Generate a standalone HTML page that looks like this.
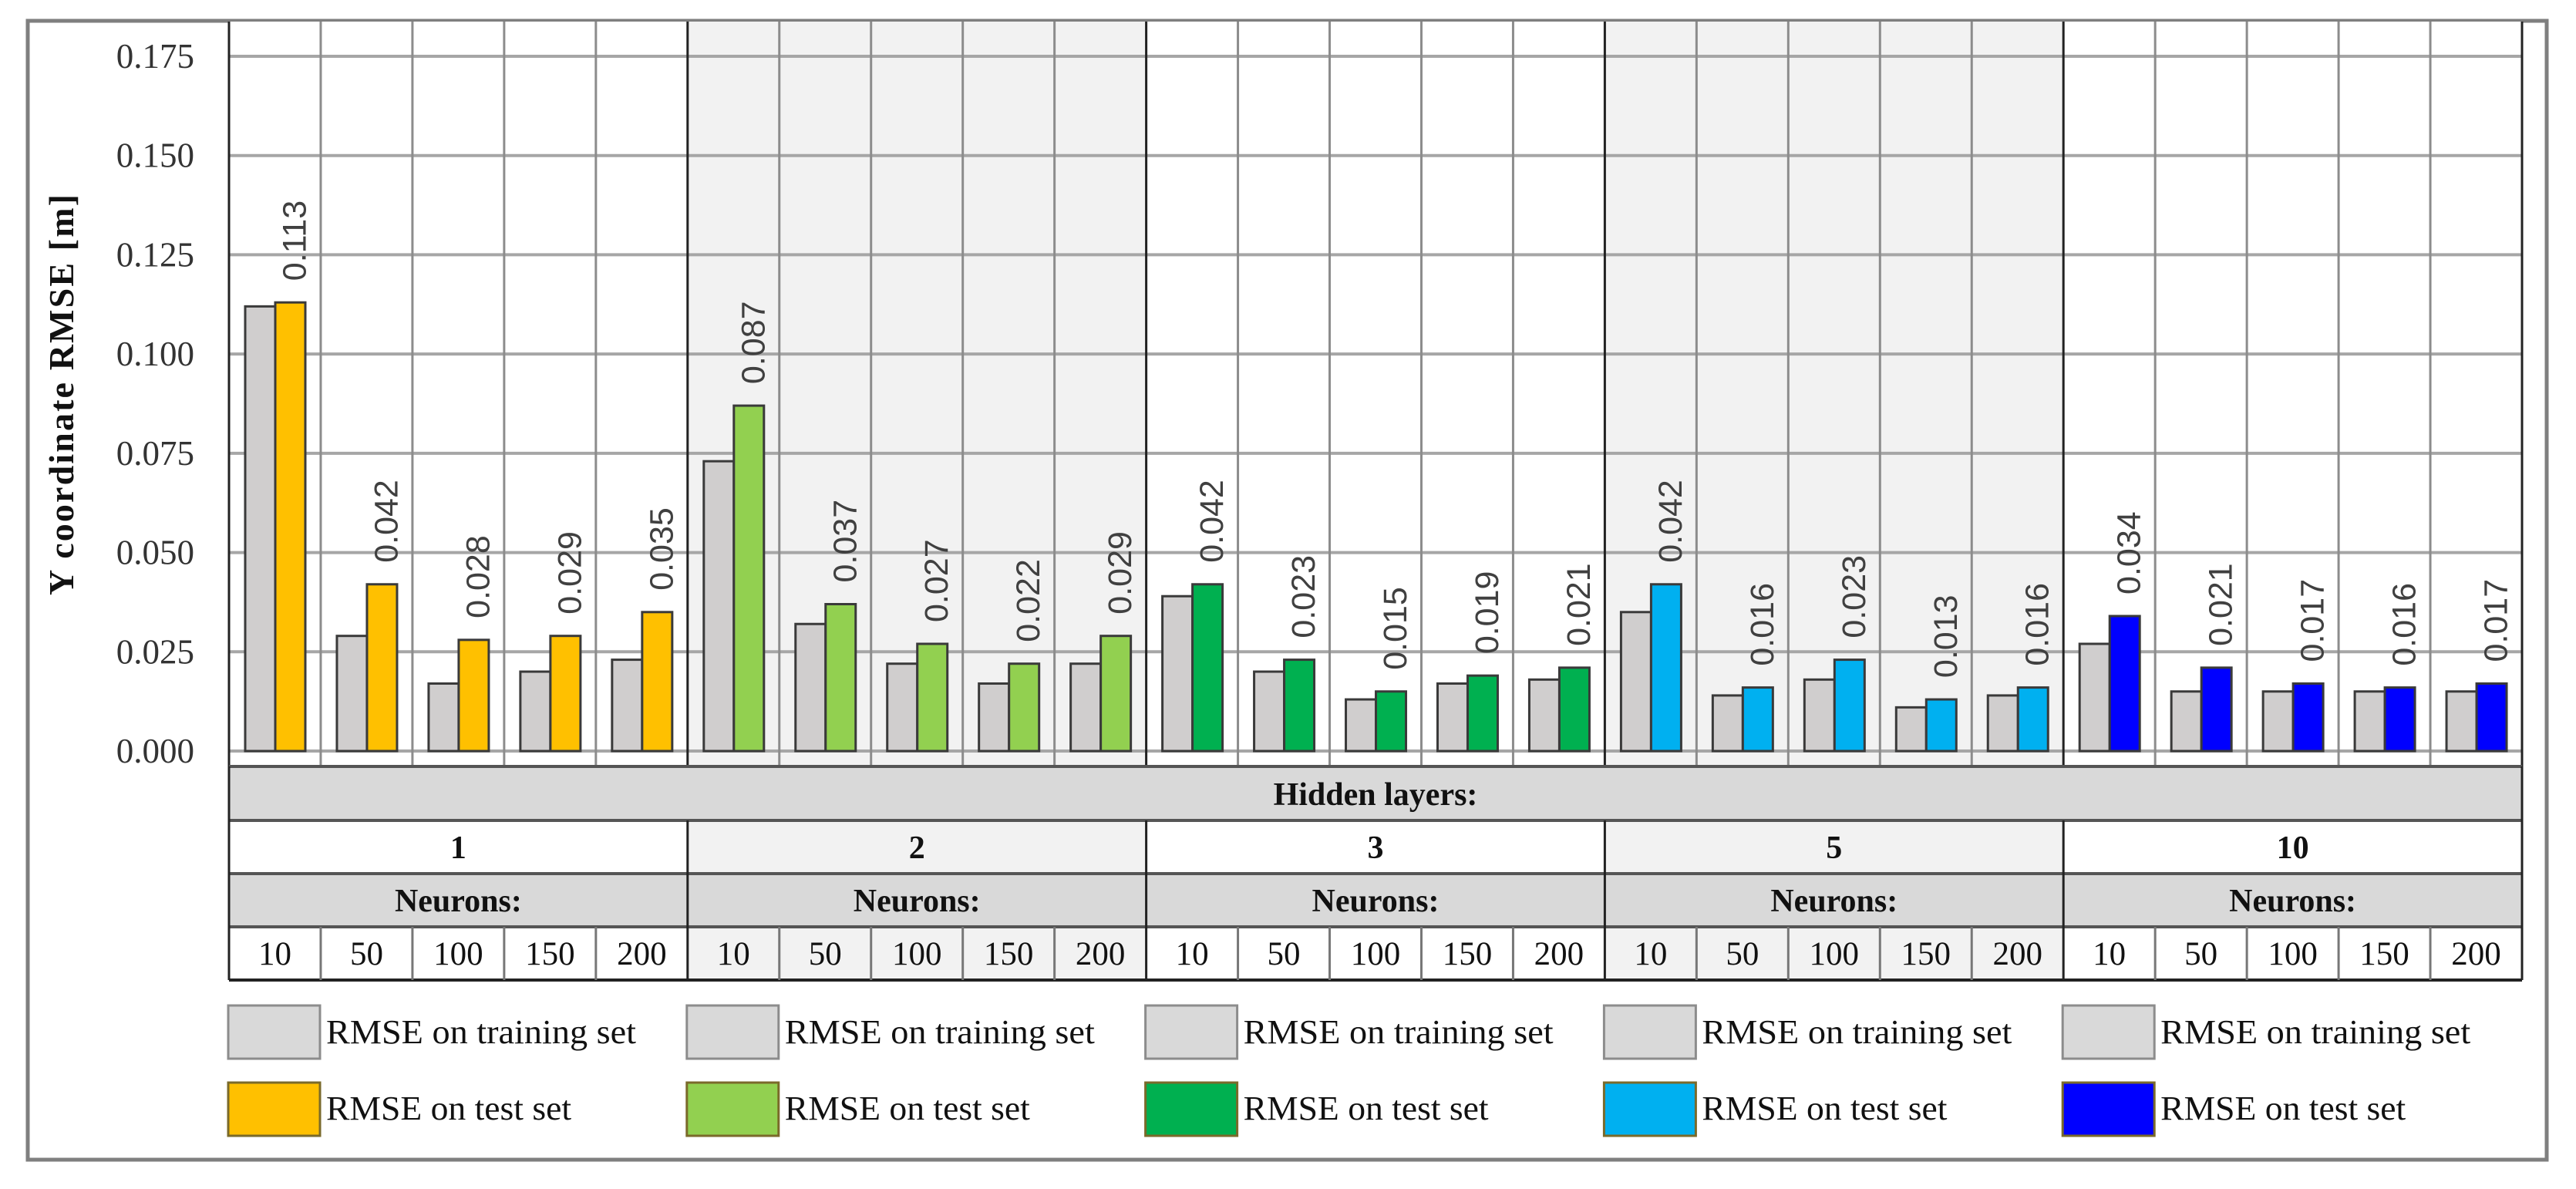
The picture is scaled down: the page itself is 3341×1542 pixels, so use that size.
<!DOCTYPE html>
<html><head><meta charset="utf-8"><style>
html,body{margin:0;padding:0;background:#fff;}
svg{display:block;}
</style></head><body>
<svg id="chart" width="3341" height="1542" viewBox="0 0 3341 1542" xmlns="http://www.w3.org/2000/svg">
<rect x="36" y="27" width="3267" height="1477" fill="#fff" stroke="#7f7f7f" stroke-width="5"/>
<g id="bg"></g>
<g id="grid"></g>
<g id="bars"></g>
<g id="labels"></g>
<g id="table"></g>
<g id="legend"></g>
<text transform="translate(95,512) rotate(-90)" text-anchor="middle" font-family="Liberation Serif, serif" font-weight="bold" font-size="46" textLength="520" fill="#111">Y coordinate RMSE [m]</text>
</svg>
<script>
const layers = ["1","2","3","5","10"];
const neurons = ["10","50","100","150","200"];
const trainValues = [
 [0.112,0.029,0.017,0.020,0.023],
 [0.073,0.032,0.022,0.017,0.022],
 [0.039,0.020,0.013,0.017,0.018],
 [0.035,0.014,0.018,0.011,0.014],
 [0.027,0.015,0.015,0.015,0.015]];
const testValues = [
 [0.113,0.042,0.028,0.029,0.035],
 [0.087,0.037,0.027,0.022,0.029],
 [0.042,0.023,0.015,0.019,0.021],
 [0.042,0.016,0.023,0.013,0.016],
 [0.034,0.021,0.017,0.016,0.017]];
const yTicks = [0,0.025,0.05,0.075,0.1,0.125,0.15,0.175];
const testColors = ["#ffc000","#92d050","#00b050","#00b0f0","#0000ff"];

const NS="http://www.w3.org/2000/svg";
const X0=297, X1=3271, PTOP=28, PBOT=994, Y0=974, YMAX=0.175, YTOP=73;
const GW=(X1-X0)/5, SW=GW/5;
function yS(v){return Y0-(v/YMAX)*(Y0-YTOP);}
function gx(g){return X0+g*GW;}
function sx(g,s){return gx(g)+s*SW;}
function mk(parent,tag,attrs,text){const e=document.createElementNS(NS,tag);for(const k in attrs)e.setAttribute(k,attrs[k]);if(text!==undefined)e.textContent=text;document.getElementById(parent).appendChild(e);return e;}

// backgrounds
for(let g=0;g<5;g++){
 const e=mk('bg','rect',{x:gx(g),y:PTOP,width:GW,height:PBOT-PTOP,fill:(g%2)?'#f2f2f2':'#fff'});
 
 
}
// horizontal grid + ticks
yTicks.forEach(t=>{
 const y=yS(t);
 const l=mk('grid','line',{x1:X0,x2:X1,y1:y,y2:y,stroke:'#a6a6a6','stroke-width':4});
 
 
 const tx=mk('grid','text',{x:252,y:y+15,'text-anchor':'end','font-family':'Liberation Serif, serif','font-size':45,fill:'#333'},t.toFixed(3));
 
 
});
// vertical lines
for(let g=0;g<5;g++)for(let s=1;s<5;s++){
 const l=mk('grid','line',{x1:sx(g,s),x2:sx(g,s),y1:PTOP,y2:PBOT,stroke:'#8c8c8c','stroke-width':3});
 
 
}
for(let g=0;g<=5;g++){
 const l=mk('grid','line',{x1:gx(g),x2:gx(g),y1:PTOP,y2:1271,stroke:'#222','stroke-width':3});
 
 
}
// bars
const BW=39, PAD=21;
for(let g=0;g<5;g++)for(let s=0;s<5;s++){
 const bx=sx(g,s)+PAD;
 const tv=trainValues[g][s], te=testValues[g][s];
 const b1=mk('bars','rect',{x:bx,y:yS(tv),width:BW,height:Y0-yS(tv),fill:'#d0cece',stroke:'#3a3a3a','stroke-width':3});
 
 
 const b2=mk('bars','rect',{x:bx+BW,y:yS(te),width:BW,height:Y0-yS(te),fill:testColors[g],stroke:'#3a3a3a','stroke-width':3});
 
 
 const cx=bx+BW*1.5+5, ty=yS(te)-28;
 const lb=mk('labels','text',{transform:`translate(${cx+15},${ty}) rotate(-90)`,'font-family':'Liberation Sans, sans-serif','font-size':43,fill:'#404040'},te.toFixed(3));
 
 
}
// table
function row(y1,y2,fillFn){
 for(let g=0;g<5;g++){mk('table','rect',{x:gx(g),y:y1,width:GW,height:y2-y1,fill:fillFn(g)});}
}
mk('table','rect',{x:X0,y:994,width:X1-X0,height:70,fill:'#d9d9d9'});
row(1064,1133,g=>(g%2)?'#f2f2f2':'#fff');
row(1133,1202,g=>'#d9d9d9');
row(1202,1271,g=>(g%2)?'#f2f2f2':'#fff');
[994,1064,1133,1202].forEach(y=>mk('table','line',{x1:X0,x2:X1,y1:y,y2:y,stroke:'#555','stroke-width':4}));
mk('table','line',{x1:X0,x2:X1,y1:1271,y2:1271,stroke:'#222','stroke-width':4});
mk('table','line',{x1:X0,x2:X0,y1:994,y2:1271,stroke:'#222','stroke-width':3});
mk('table','line',{x1:X1,x2:X1,y1:994,y2:1271,stroke:'#222','stroke-width':3});
for(let g=0;g<5;g++){
 mk('table','line',{x1:gx(g),x2:gx(g),y1:1064,y2:1271,stroke:'#222','stroke-width':3});
 for(let s=1;s<5;s++) mk('table','line',{x1:sx(g,s),x2:sx(g,s),y1:1202,y2:1271,stroke:'#777','stroke-width':3});
}
const hl=mk('table','text',{x:(X0+X1)/2,y:1044,'text-anchor':'middle','font-family':'Liberation Serif, serif','font-weight':'bold','font-size':42,fill:'#111'},'Hidden layers:');


for(let g=0;g<5;g++){
 const c=gx(g)+GW/2;
 const t=mk('table','text',{x:c,y:1113,'text-anchor':'middle','font-family':'Liberation Serif, serif','font-weight':'bold','font-size':42,fill:'#111'},layers[g]);
 
 
 const n=mk('table','text',{x:c,y:1182,'text-anchor':'middle','font-family':'Liberation Serif, serif','font-weight':'bold','font-size':42,fill:'#111'},'Neurons:');
 
 
 for(let s=0;s<5;s++){
  const v=mk('table','text',{x:sx(g,s)+SW/2,y:1251,'text-anchor':'middle','font-family':'Liberation Serif, serif','font-size':43,fill:'#111'},neurons[s]);
  
  
 }
}
// legend
for(let g=0;g<5;g++){
 const lx=gx(g)-1;
 const r1=mk('legend','rect',{x:lx,y:1304,width:119,height:69,fill:'#d9d9d9',stroke:'#8c8c8c','stroke-width':3});
 
 
 const t1=mk('legend','text',{x:lx+127,y:1353,'font-family':'Liberation Serif, serif','font-size':44,textLength:402,lengthAdjust:'spacingAndGlyphs',fill:'#111'},'RMSE on training set');
 
 
 const r2=mk('legend','rect',{x:lx,y:1404,width:119,height:69,fill:testColors[g],stroke:'#7a6a2a','stroke-width':3});
 
 
 const t2=mk('legend','text',{x:lx+127,y:1452,'font-family':'Liberation Serif, serif','font-size':44,textLength:318,lengthAdjust:'spacingAndGlyphs',fill:'#111'},'RMSE on test set');
 
 
}
</script>
</body></html>
